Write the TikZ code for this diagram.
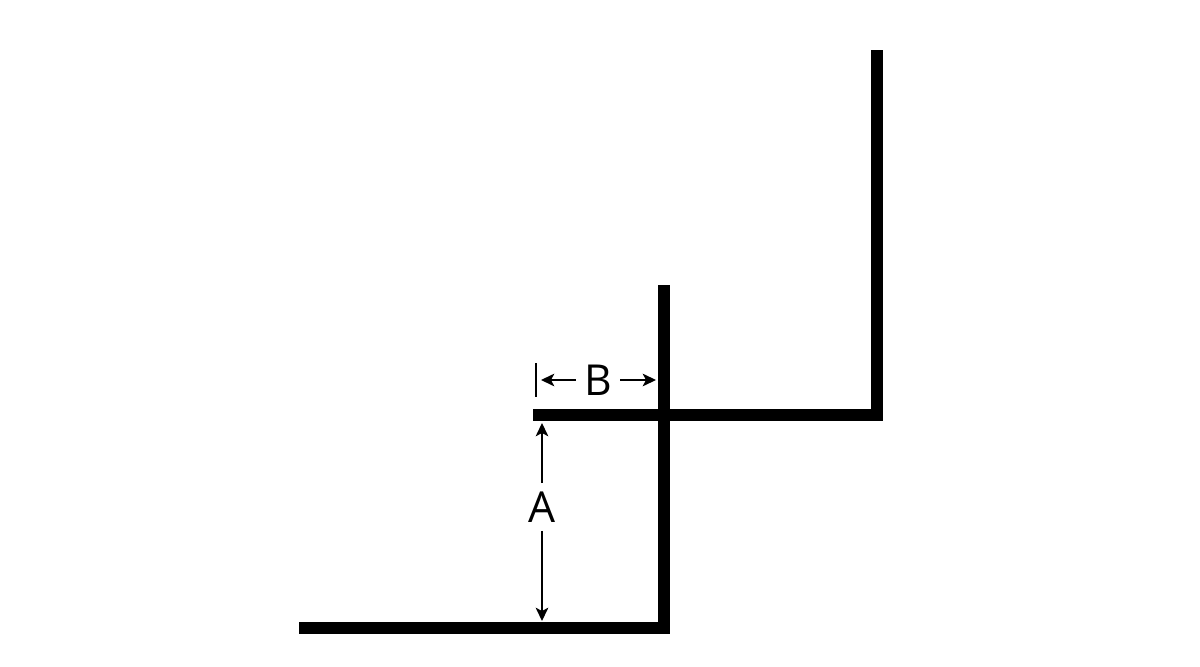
\documentclass[tikz,border=0pt]{standalone}
\usepackage{fontspec}
\setsansfont{Open Sans}
\usetikzlibrary{arrows.meta}
\tikzset{
  wall/.style={line width=9.5pt, line join=miter},
  dim/.style={line width=1.1pt, -{Stealth[length=10pt,width=9.5pt,inset=2.5pt]}},
  lbl/.style={font=\sffamily\fontsize{32}{32}\selectfont, inner sep=0pt, outer sep=6.5pt}
}

\begin{document}
\begin{tikzpicture}[x=0.75pt, y=-0.75pt]
\useasboundingbox (0,0) rectangle (1200,667);
% the two steps
\draw[wall] (299,628) -- (664,628) -- (664,285);
\draw[wall] (533,415) -- (877,415) -- (877,50);

% rise A
\node[lbl] (A) at (542,507) {A};
\coordinate (Atop) at (542,423);
\coordinate (Abot) at (542,621);
\draw[dim] (A) -- (Atop);
\draw[dim] (A) -- (Abot);

% run B
\node[lbl] (B) at (598,380) {B};
\coordinate (Bleft) at (541,380);
\coordinate (Bright) at (656,380);
\coordinate (Btick1) at (536,363);
\coordinate (Btick2) at (536,397);
\draw[line width=1.1pt] (Btick1) -- (Btick2);
\draw[dim] (B) -- (Bleft);
\draw[dim] (B) -- (Bright);
\end{tikzpicture}
\end{document}
